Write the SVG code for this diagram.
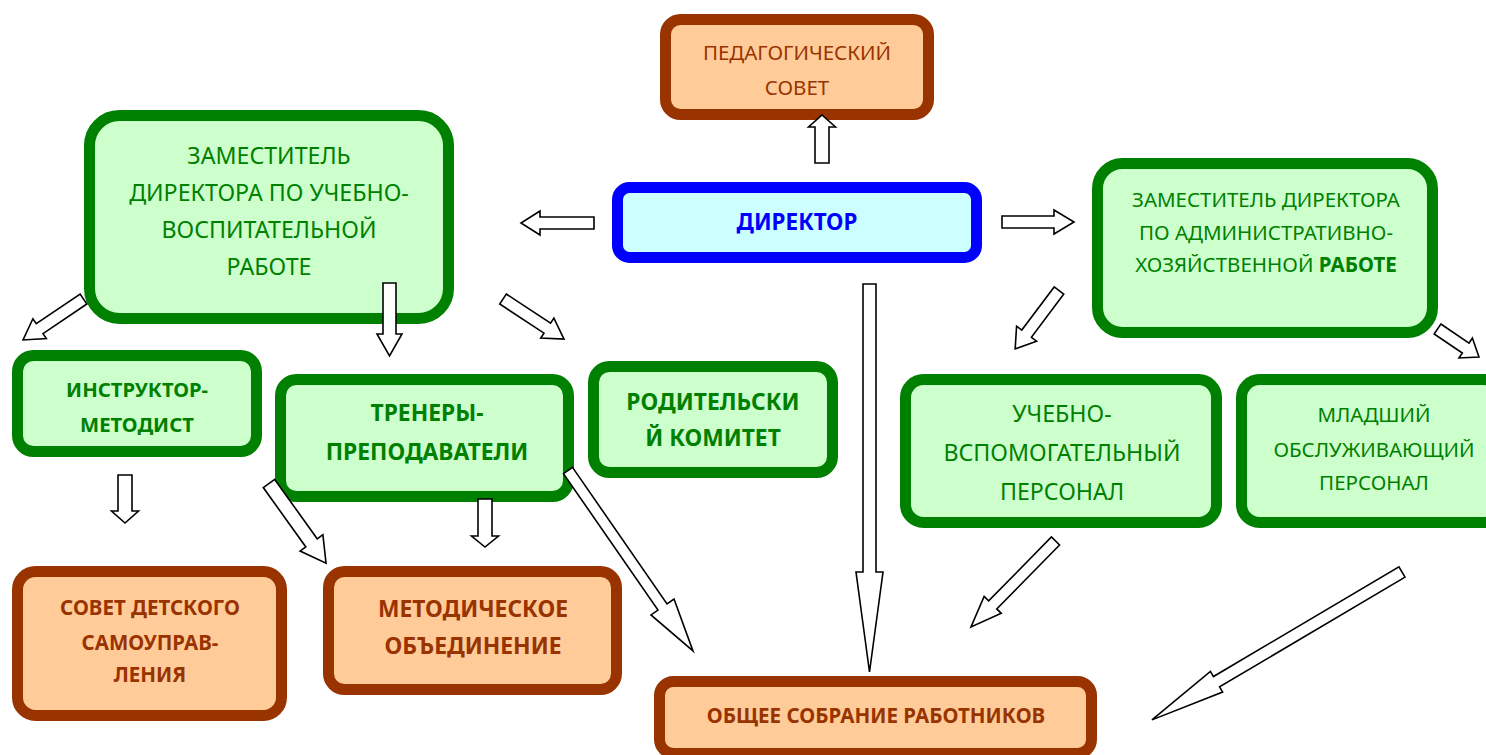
<svg xmlns="http://www.w3.org/2000/svg" width="1486" height="755" viewBox="0 0 1486 755">
<style>
.g{fill:#CCFFCC;stroke:#008000;stroke-width:11}
.b{fill:#FFCC99;stroke:#993300;stroke-width:11}
.d{fill:#CCFFFF;stroke:#0000FF;stroke-width:11}
text{font-family:"Noto Sans","Open Sans","DejaVu Sans",sans-serif;text-anchor:middle}
.tg{fill:#008000;font-size:20.5px}
.tgL{fill:#008000;font-size:23.2px}
.tgb{fill:#008000;font-size:20.3px;font-weight:bold}
.tgbL{fill:#008000;font-size:22.8px;font-weight:bold}
.tb{fill:#993300;font-size:20.5px}
.tbb{fill:#993300;font-size:20.5px;font-weight:bold}
.tbbL{fill:#993300;font-size:22.8px;font-weight:bold}
.td{fill:#0000FF;font-size:22.4px;font-weight:bold}
.ar{fill:#FFFFFF;stroke:#000000;stroke-width:1.6;stroke-linejoin:miter}
</style>
<rect width="1486" height="755" fill="#FFFFFF"/>
<g id="ped-sovet">
<rect class="b" x="665.5" y="19.5" width="263" height="95" rx="15"/>
<text class="tb" x="797" y="60">ПЕДАГОГИЧЕСКИЙ</text>
<text class="tb" x="797" y="95">СОВЕТ</text>
</g>
<g id="direktor">
<rect class="d" x="617.5" y="187.5" width="359" height="70" rx="12"/>
<text class="td" x="797" y="230">ДИРЕКТОР</text>
</g>
<g id="zam-uvr">
<rect class="g" x="89.5" y="115.5" width="359" height="203" rx="30"/>
<text class="tgL" x="269" y="164">ЗАМЕСТИТЕЛЬ</text>
<text class="tgL" x="269" y="201">ДИРЕКТОРА ПО УЧЕБНО-</text>
<text class="tgL" x="269" y="238">ВОСПИТАТЕЛЬНОЙ</text>
<text class="tgL" x="269" y="275">РАБОТЕ</text>
</g>
<g id="zam-ahr">
<rect class="g" x="1097.5" y="163.5" width="335" height="169" rx="25"/>
<text class="tg" x="1266" y="207">ЗАМЕСТИТЕЛЬ ДИРЕКТОРА</text>
<text class="tg" x="1266" y="240">ПО АДМИНИСТРАТИВНО-</text>
<text class="tg" x="1266" y="272">ХОЗЯЙСТВЕННОЙ <tspan font-weight="bold">РАБОТЕ</tspan></text>
</g>
<g id="instruktor">
<rect class="g" x="17.5" y="355.5" width="239" height="96" rx="16"/>
<text class="tgb" x="137" y="397">ИНСТРУКТОР-</text>
<text class="tgb" x="137" y="432">МЕТОДИСТ</text>
</g>
<g id="trenery">
<rect class="g" x="280.5" y="379.5" width="288" height="117" rx="16"/>
<text class="tgbL" x="427" y="421">ТРЕНЕРЫ-</text>
<text class="tgbL" x="427" y="460">ПРЕПОДАВАТЕЛИ</text>
</g>
<g id="roditelsky">
<rect class="g" x="593.5" y="366.5" width="239" height="106" rx="16"/>
<text class="tgbL" x="713" y="410">РОДИТЕЛЬСКИ</text>
<text class="tgbL" x="713" y="446">Й КОМИТЕТ</text>
</g>
<g id="uchebno">
<rect class="g" x="905.5" y="379.5" width="311" height="143" rx="18"/>
<text class="tgL" x="1062" y="422">УЧЕБНО-</text>
<text class="tgL" x="1062" y="461">ВСПОМОГАТЕЛЬНЫЙ</text>
<text class="tgL" x="1062" y="500">ПЕРСОНАЛ</text>
</g>
<g id="mladshy">
<rect class="g" x="1241.5" y="379.5" width="260" height="143" rx="18"/>
<text class="tg" x="1374" y="422">МЛАДШИЙ</text>
<text class="tg" x="1374" y="457">ОБСЛУЖИВАЮЩИЙ</text>
<text class="tg" x="1374" y="490">ПЕРСОНАЛ</text>
</g>
<g id="sovet-detskogo">
<rect class="b" x="17.5" y="571.5" width="264" height="144" rx="18"/>
<text class="tbb" x="150" y="615">СОВЕТ ДЕТСКОГО</text>
<text class="tbb" x="150" y="650">САМОУПРАВ-</text>
<text class="tbb" x="150" y="682">ЛЕНИЯ</text>
</g>
<g id="metod">
<rect class="b" x="328.5" y="571.5" width="288" height="118" rx="16"/>
<text class="tbbL" x="473" y="617">МЕТОДИЧЕСКОЕ</text>
<text class="tbbL" x="473" y="654">ОБЪЕДИНЕНИЕ</text>
</g>
<g id="obshee">
<rect class="b" x="659.5" y="681.5" width="432" height="72" rx="14"/>
<text class="tbb" x="876" y="723">ОБЩЕЕ СОБРАНИЕ РАБОТНИКОВ</text>
</g>
<g id="connectors">
<polygon class="ar" transform="translate(822,163) rotate(-90)" points="0,-7 36,-7 36,-13.5 48,0 36,13.5 36,7 0,7"/>
<polygon class="ar" transform="translate(594,223) rotate(180)" points="0,-6 54,-6 54,-12 73,0 54,12 54,6 0,6"/>
<polygon class="ar" transform="translate(1002,222)" points="0,-6 52,-6 52,-12 72,0 52,12 52,6 0,6"/>
<polygon class="ar" transform="translate(869.5,284) rotate(90)" points="0,-6.5 288,-6.5 288,-13.5 388,0 288,13.5 288,6.5 0,6.5"/>
<polygon class="ar" transform="translate(83.5,299) rotate(145.9)" points="0,-6 53,-6 53,-12 73,0 53,12 53,6 0,6"/>
<polygon class="ar" transform="translate(389.5,283) rotate(90)" points="0,-6.5 51,-6.5 51,-12.5 73,0 51,12.5 51,6.5 0,6.5"/>
<polygon class="ar" transform="translate(503,299) rotate(33.3)" points="0,-6 53,-6 53,-12 73,0 53,12 53,6 0,6"/>
<polygon class="ar" transform="translate(125,475) rotate(90)" points="0,-7 36,-7 36,-13.5 48,0 36,13.5 36,7 0,7"/>
<polygon class="ar" transform="translate(269,483.5) rotate(54.4)" points="0,-7 73,-7 73,-14 98,0 73,14 73,7 0,7"/>
<polygon class="ar" transform="translate(485,499) rotate(90)" points="0,-7 37,-7 37,-13.5 48,0 37,13.5 37,7 0,7"/>
<polygon class="ar" transform="translate(568,470.5) rotate(55.3)" points="0,-5.5 166,-5.5 166,-14 219.5,0 166,14 166,5.5 0,5.5"/>
<polygon class="ar" transform="translate(1059,290.5) rotate(126.9)" points="0,-6 54,-6 54,-12.5 73,0 54,12.5 54,6 0,6"/>
<polygon class="ar" transform="translate(1437.5,329) rotate(34)" points="0,-6 34,-6 34,-12 50,0 34,12 34,6 0,6"/>
<polygon class="ar" transform="translate(1055.5,541) rotate(134.5)" points="0,-5.7 89.6,-5.7 89.6,-12 120.6,0 89.6,12 89.6,5.7 0,5.7"/>
<polygon class="ar" transform="translate(1402,572) rotate(149.4)" points="0,-6 215.5,-6 215.5,-12 290.5,0 215.5,12 215.5,6 0,6"/>
</g>
</svg>
